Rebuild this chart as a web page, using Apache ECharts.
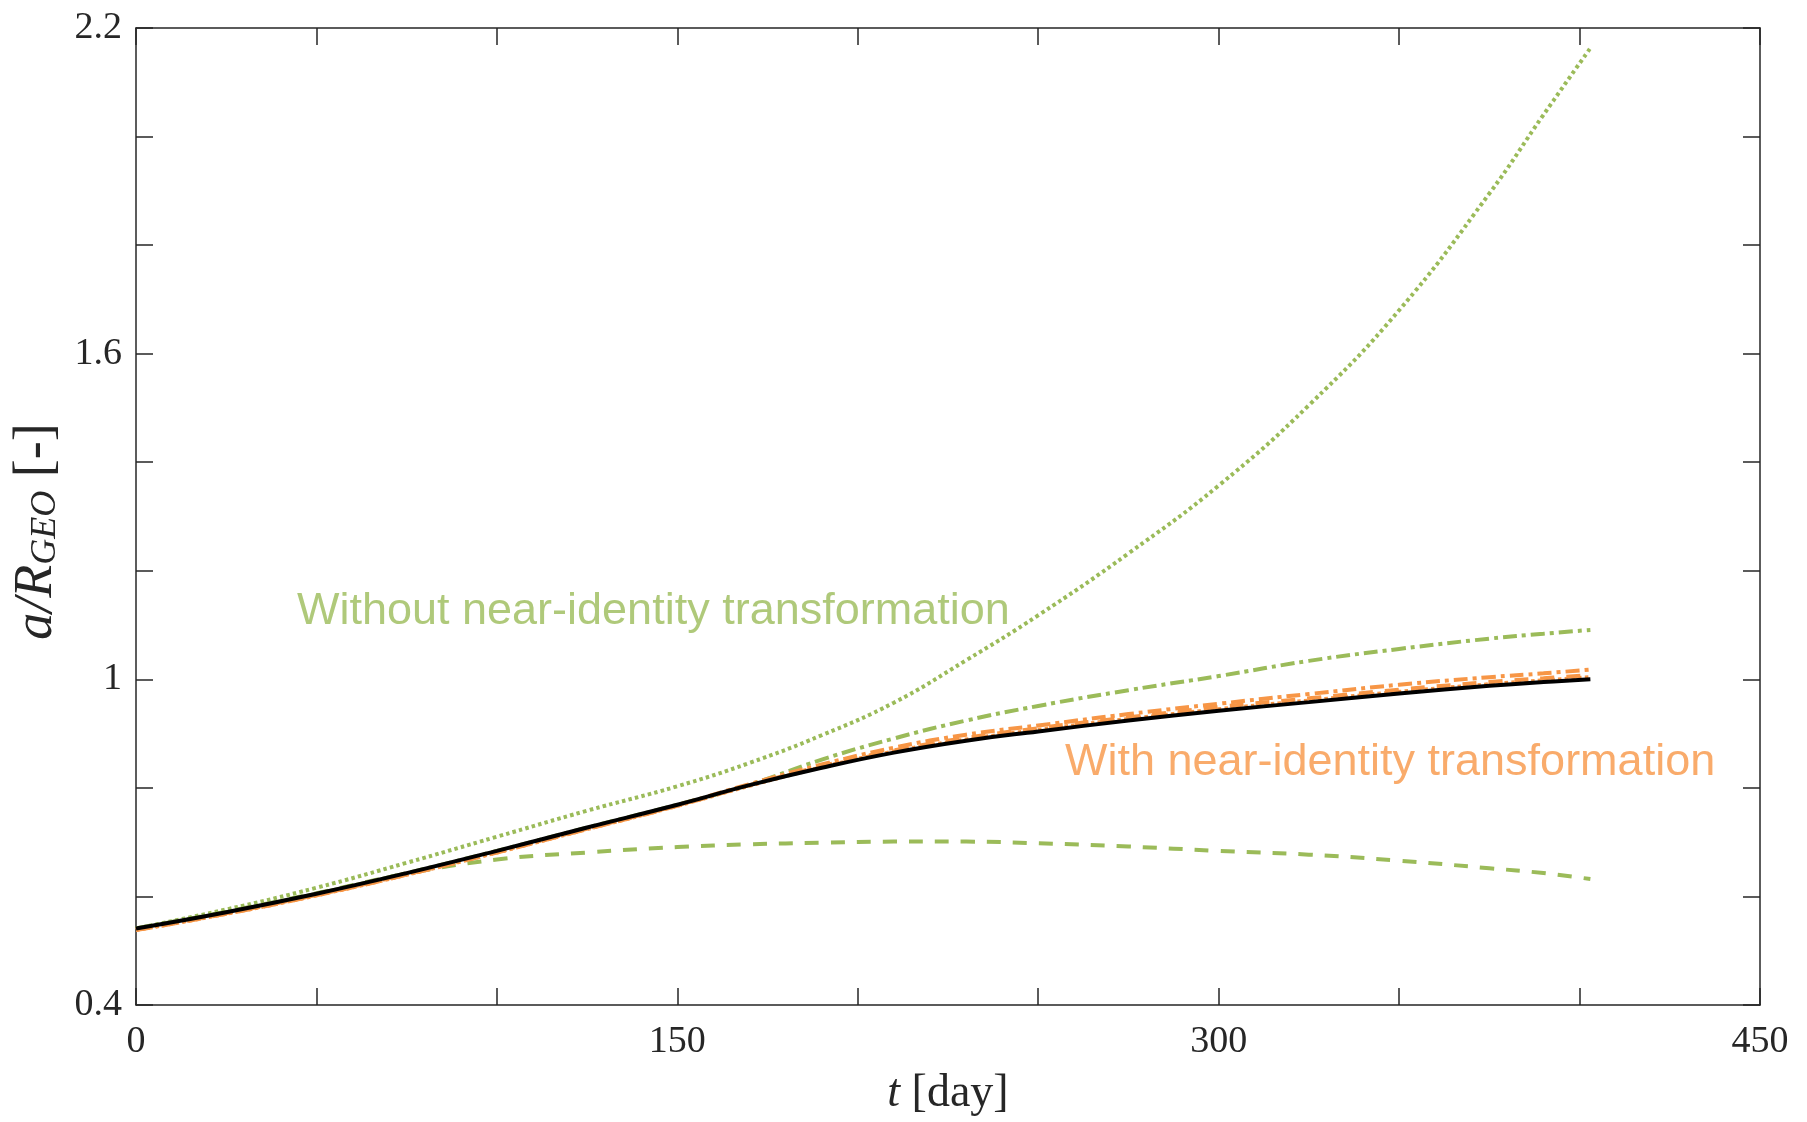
<!DOCTYPE html>
<html>
<head>
<meta charset="utf-8">
<title>a/R_GEO versus time</title>
<script src="https://cdn.jsdelivr.net/npm/echarts@6/dist/echarts.min.js"></script>
<style>
  html, body { margin: 0; padding: 0; background: #ffffff; }
  #chart { width: 1807px; height: 1122px; }
</style>
</head>
<body>
<div id="chart"></div>
<script>
// Time samples [day]
const tDays = [0, 25, 50, 75, 100, 125, 150, 170, 190, 210, 230, 250, 275, 300, 325, 350, 375, 390, 403];

// Reference trajectory (black)
const aReference = [0.541, 0.571, 0.605, 0.643, 0.684, 0.727, 0.769, 0.805, 0.837, 0.865, 0.887, 0.904, 0.924, 0.942, 0.958, 0.974, 0.988, 0.995, 1.000];

// Without near-identity transformation (green)
const aNoNitDotted  = [0.541, 0.576, 0.616, 0.662, 0.710, 0.758, 0.803, 0.846, 0.897, 0.957, 1.035, 1.118, 1.232, 1.357, 1.505, 1.680, 1.895, 2.040, 2.163];
const aNoNitDashed  = [0.541, 0.572, 0.606, 0.642, 0.668, 0.681, 0.691, 0.696, 0.699, 0.701, 0.701, 0.698, 0.692, 0.684, 0.677, 0.666, 0.652, 0.643, 0.632];
const aNoNitDashDot = [0.541, 0.571, 0.605, 0.643, 0.684, 0.727, 0.769, 0.806, 0.852, 0.891, 0.924, 0.951, 0.980, 1.006, 1.034, 1.056, 1.075, 1.084, 1.091];

// With near-identity transformation (orange)
const aNitDotted  = [0.538, 0.568, 0.602, 0.640, 0.681, 0.724, 0.767, 0.804, 0.838, 0.867, 0.889, 0.907, 0.927, 0.945, 0.961, 0.977, 0.991, 0.998, 1.004];
const aNitDashed  = [0.538, 0.568, 0.602, 0.640, 0.681, 0.724, 0.767, 0.805, 0.840, 0.869, 0.892, 0.910, 0.930, 0.949, 0.965, 0.981, 0.995, 1.002, 1.008];
const aNitDashDot = [0.539, 0.569, 0.603, 0.641, 0.682, 0.725, 0.768, 0.807, 0.843, 0.874, 0.898, 0.915, 0.936, 0.955, 0.973, 0.990, 1.004, 1.011, 1.018];

// Tick labels that are printed (other ticks stay unlabelled)
const xTickLabels = ['0', '150', '300', '450'];
const yTickLabels = ['0.4', '1', '1.6', '2.2'];

// Text annotations: [text, t, a, colour]
const notes = [
  ['Without near-identity transformation', 44.6, 1.124, '#9BBB59'],
  ['With near-identity transformation', 257.4, 0.846, '#F79646']
];

const GREEN = '#9BBB59';
const ORANGE = '#F79646';
const AXIS = '#262626';
const SERIF = '"Liberation Serif", "DejaVu Serif", serif';
const SANS = '"Liberation Sans", Arial, Helvetica, sans-serif';

const pairs = (ys) => tDays.map((t, i) => [t, ys[i]]);

function lineSeries(name, ys, color, width, dash, z) {
  return {
    name: name,
    type: 'line',
    data: pairs(ys),
    showSymbol: false,
    symbol: 'none',
    smooth: 0.45,
    z: z,
    lineStyle: { color: color, width: width, type: dash, cap: 'butt' },
    emphasis: { disabled: true }
  };
}

const DOT = [3.5, 3.2];
const DASH = [14, 12];
const DASHDOT = [14, 5, 4, 5];

function axisCommon(showLabels) {
  return {
    axisLine: { show: true, onZero: false, lineStyle: { color: AXIS, width: 1.5 } },
    axisTick: { show: true, inside: true, length: 17, lineStyle: { color: AXIS, width: 1.5 } },
    splitLine: { show: false },
    axisLabel: { show: showLabels }
  };
}

const chart = echarts.init(document.getElementById('chart'), null, { renderer: 'canvas' });

const option = {
  animation: false,
  backgroundColor: '#ffffff',
  grid: { left: 136, right: 47, top: 28, bottom: 114, containLabel: false },
  xAxis: [
    Object.assign(axisCommon(true), {
      type: 'value', position: 'bottom', min: 0, max: 450, interval: 50,
      axisLabel: {
        show: true, margin: 18, color: AXIS, fontFamily: SERIF, fontSize: 38,
        formatter: (v) => (xTickLabels.includes(String(Math.round(v))) ? String(Math.round(v)) : '')
      },
      name: '{i|t}{n| [day]}',
      nameLocation: 'middle',
      nameGap: 66,
      nameTextStyle: {
        color: AXIS,
        rich: {
          i: { fontFamily: SERIF, fontStyle: 'italic', fontSize: 46, color: AXIS },
          n: { fontFamily: SERIF, fontSize: 46, color: AXIS }
        }
      }
    }),
    Object.assign(axisCommon(false), {
      type: 'value', position: 'top', min: 0, max: 450, interval: 50
    })
  ],
  yAxis: [
    Object.assign(axisCommon(true), {
      type: 'value', position: 'left', min: 0.4, max: 2.2, interval: 0.2,
      axisLabel: {
        show: true, margin: 14, color: AXIS, fontFamily: SERIF, fontSize: 38,
        formatter: (v) => {
          const s = String(Math.round(v * 10) / 10);
          return yTickLabels.includes(s) ? s : '';
        }
      },
      name: '{i|a/R}{s|GEO}{n| [-]}',
      nameLocation: 'middle',
      nameRotate: 90,
      nameGap: 62,
      nameTextStyle: {
        color: AXIS,
        padding: [0, 30, 0, 0],
        rich: {
          i: { fontFamily: SERIF, fontStyle: 'italic', fontSize: 54, color: AXIS, lineHeight: 60, verticalAlign: 'bottom' },
          s: { fontFamily: SERIF, fontStyle: 'italic', fontSize: 36, color: AXIS, lineHeight: 60, verticalAlign: 'bottom', padding: [18, 0, 0, 0] },
          n: { fontFamily: SERIF, fontSize: 54, color: AXIS, lineHeight: 60, verticalAlign: 'bottom' }
        }
      }
    }),
    Object.assign(axisCommon(false), {
      type: 'value', position: 'right', min: 0.4, max: 2.2, interval: 0.2
    })
  ],
  series: [
    lineSeries('no-NIT dotted', aNoNitDotted, GREEN, 4, DOT, 2),
    lineSeries('no-NIT dashed', aNoNitDashed, GREEN, 4, DASH, 2),
    lineSeries('no-NIT dash-dot', aNoNitDashDot, GREEN, 4, DASHDOT, 2),
    lineSeries('NIT dotted', aNitDotted, ORANGE, 4, DOT, 3),
    lineSeries('NIT dashed', aNitDashed, ORANGE, 4, DASH, 3),
    lineSeries('NIT dash-dot', aNitDashDot, ORANGE, 4, DASHDOT, 3),
    lineSeries('reference', aReference, '#000000', 4, 'solid', 4),
    {
      name: 'notes',
      type: 'scatter',
      symbolSize: 0,
      silent: true,
      z: 5,
      data: notes.map((n) => ({
        value: [n[1], n[2]],
        label: {
          show: true,
          position: 'right',
          distance: 0,
          formatter: n[0],
          color: n[3],
          fontFamily: SANS,
          fontSize: 45
        }
      }))
    }
  ]
};

chart.setOption(option);
</script>
</body>
</html>
